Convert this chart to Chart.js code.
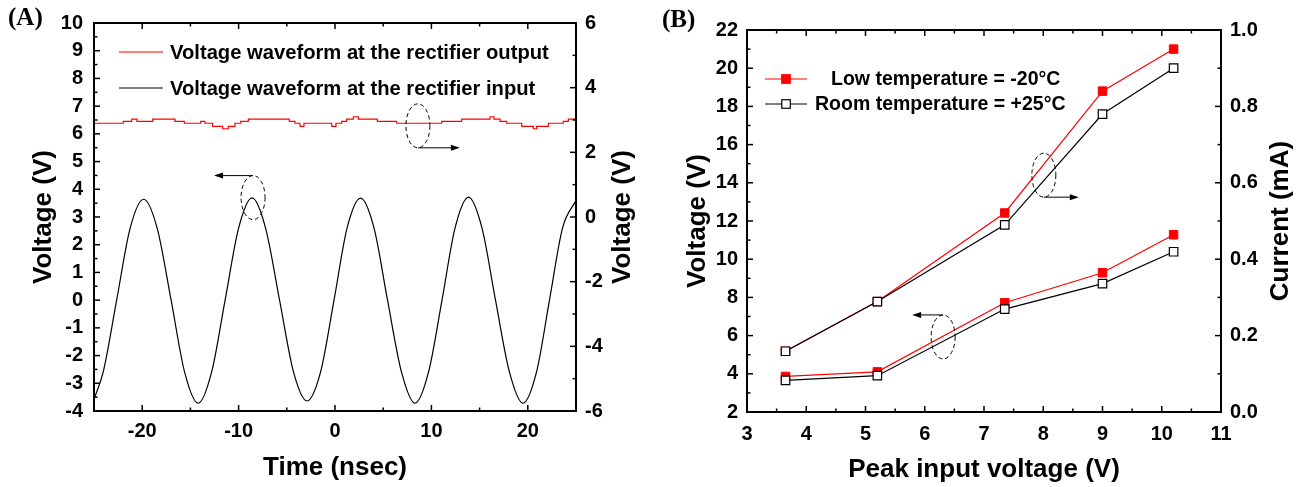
<!DOCTYPE html>
<html>
<head>
<meta charset="utf-8">
<script src="https://cdn.jsdelivr.net/npm/chart.js@4.4.1/dist/chart.umd.min.js"></script>
<style>
  body { margin: 0; background: #fff; width: 1302px; height: 487px; position: relative; overflow: hidden; }
  canvas { position: absolute; top: 0; }
  #chartA { left: 0; }
  #chartB { left: 651px; }
  .panel { position: absolute; font: bold 25px 'Liberation Serif', 'Times New Roman', serif; color: #000; }
</style>
</head>
<body>
<canvas id="chartA" width="651" height="487"></canvas>
<canvas id="chartB" width="651" height="487"></canvas>
<div class="panel" style="left:8px;top:3px">(A)</div>
<div class="panel" style="left:662px;top:5px">(B)</div>
<script>
// (A) rectifier input: sine read at peaks, troughs, zero crossings and 1/8 points
const inputTime = [-25.0, -24.05, -22.65, -21.25, -19.85, -18.45, -17.0, -15.6, -14.2, -12.8, -11.4, -10.0, -8.6, -7.2, -5.75, -4.3, -2.9, -1.5, -0.1, 1.25, 2.65, 4.05, 5.45, 6.9, 8.3, 9.7, 11.1, 12.45, 13.85, 15.25, 16.65, 18.1, 19.5, 20.9, 22.25, 23.6, 25.0]
const inputVoltage = [-3.57, -2.6, 0.0, 2.6, 3.64, 2.6, 0.0, -2.6, -3.72, -2.6, 0.0, 2.6, 3.69, 2.6, 0.0, -2.6, -3.64, -2.6, 0.0, 2.6, 3.68, 2.6, 0.0, -2.6, -3.72, -2.6, 0.0, 2.6, 3.72, 2.6, 0.0, -2.6, -3.72, -2.6, 0.0, 2.6, 3.6]

// (A) rectifier output (right axis), stepped: each point is the start of a level
const outputTime = [-25.0, -21.96, -21.09, -20.54, -18.91, -16.6, -15.63, -13.93, -13.49, -12.69, -11.65, -11.07, -10.37, -9.78, -8.99, -4.74, -4.15, -3.63, -3.22, -0.34, 0.10, 0.69, 1.21, 1.90, 2.42, 4.39, 6.40, 11.07, 13.14, 16.08, 16.49, 17.12, 17.81, 19.37, 20.57, 20.92, 22.13, 23.68, 24.2, 25.0]
const outputVoltage = [2.90, 2.96, 3.03, 2.96, 3.03, 2.96, 2.90, 2.96, 2.90, 2.80, 2.73, 2.80, 2.90, 2.96, 3.03, 2.96, 2.90, 2.80, 2.90, 2.80, 2.90, 2.96, 3.03, 3.10, 3.03, 2.96, 2.90, 2.96, 3.03, 3.10, 3.03, 2.96, 2.90, 2.80, 2.73, 2.80, 2.90, 2.96, 3.03, 3.03]
const timeTicks = [-20, -10, 0, 10, 20]

// (B)
const peakInput = [3.65, 5.2, 7.35, 9.0, 10.2]
const lowTempVoltage = [3.86, 4.1, 7.72, 9.29, 11.28]
const roomTempVoltage = [3.66, 3.9, 7.39, 8.72, 10.39]
const lowTempCurrent = [0.159, 0.289, 0.521, 0.84, 0.95]
const roomTempCurrent = [0.159, 0.289, 0.49, 0.78, 0.90]

const legendA = ['Voltage waveform at the rectifier output', 'Voltage waveform at the rectifier input']
const legendB = ['Low temperature = -20°C', 'Room temperature = +25°C']
const rightTitleA = 'Voltage (V)'
const rightTitleB = 'Current (mA)'

Chart.defaults.font.family = "'Liberation Sans', Arial, sans-serif"
Chart.defaults.font.weight = 'bold'
Chart.defaults.color = '#000'

const tickFont = { size: 20, weight: 'bold' }
const titleFont = { size: 26, weight: 'bold' }
const noGrid = { display: false, drawTicks: false }

function xy(xs, ys) {
  return xs.map((x, i) => ({ x: x, y: ys[i] }))
}

// inward major/minor ticks on all sides, plus the closed frame
function originAxes(spec) {
  return {
    id: 'originAxes',
    afterDraw(chart) {
      const ctx = chart.ctx, a = chart.chartArea
      ctx.save()
      ctx.strokeStyle = '#000'
      ctx.lineWidth = 1.5
      for (const id in spec) {
        const s = chart.scales[id]
        const major = spec[id][0], minor = spec[id][1]
        const n = Math.round((s.max - s.min) / minor)
        for (let i = 0; i <= n; i++) {
          const v = s.min + i * minor
          const isMajor = Math.abs(v / major - Math.round(v / major)) < 1e-6
          const len = isMajor ? 6 : 3.5
          const p = s.getPixelForValue(v)
          ctx.beginPath()
          if (s.isHorizontal()) {
            ctx.moveTo(p, a.bottom); ctx.lineTo(p, a.bottom - len)
            ctx.moveTo(p, a.top); ctx.lineTo(p, a.top + len)
          } else if (s.position === 'left') {
            ctx.moveTo(a.left, p); ctx.lineTo(a.left + len, p)
          } else {
            ctx.moveTo(a.right, p); ctx.lineTo(a.right - len, p)
          }
          ctx.stroke()
        }
      }
      ctx.lineWidth = 2
      ctx.strokeRect(a.left, a.top, a.right - a.left, a.bottom - a.top)
      ctx.restore()
    }
  }
}

function arrow(ctx, x0, y, x1) {
  const dir = x1 > x0 ? 1 : -1
  ctx.setLineDash([])
  ctx.beginPath()
  ctx.moveTo(x0, y)
  ctx.lineTo(x1 - dir * 7, y)
  ctx.stroke()
  ctx.beginPath()
  ctx.moveTo(x1, y)
  ctx.lineTo(x1 - dir * 9, y - 3)
  ctx.lineTo(x1 - dir * 9, y + 3)
  ctx.closePath()
  ctx.fill()
}

function marker(ctx, cx, y, filled) {
  ctx.fillStyle = filled ? '#ff0000' : '#fff'
  ctx.strokeStyle = filled ? '#ff0000' : '#000'
  ctx.fillRect(cx - 4.25, y - 4.25, 8.5, 8.5)
  ctx.lineWidth = 1.2
  ctx.strokeRect(cx - 4.25, y - 4.25, 8.5, 8.5)
}

// ellipses: [scaleX, scaleY, x, y, rx, ry, arrowSide('top'|'bottom'), arrowLen(+right/-left)]
function decor(legend, legendSize, ellipses, rightTitle, rightTitleX) {
  return {
    id: 'decor',
    afterDraw(chart) {
      const ctx = chart.ctx, a = chart.chartArea
      ctx.save()
      ctx.font = 'bold ' + legendSize + "px 'Liberation Sans', Arial, sans-serif"
      ctx.textBaseline = 'middle'
      ctx.textAlign = 'left'
      legend.forEach(item => {
        ctx.strokeStyle = item.color
        ctx.lineWidth = 1.2
        ctx.beginPath()
        ctx.moveTo(item.x0, item.y)
        ctx.lineTo(item.x1, item.y)
        ctx.stroke()
        if (item.marker !== undefined) marker(ctx, (item.x0 + item.x1) / 2, item.y, item.marker)
        ctx.fillStyle = '#000'
        ctx.fillText(item.text, item.tx, item.y + 1)
      })
      ctx.strokeStyle = '#000'
      ctx.fillStyle = '#000'
      ctx.lineWidth = 1
      ellipses.forEach(e => {
        const cx = chart.scales[e[0]].getPixelForValue(e[2])
        const cy = chart.scales[e[1]].getPixelForValue(e[3])
        ctx.setLineDash([4, 3])
        ctx.beginPath()
        ctx.ellipse(cx, cy, e[4], e[5], 0, 0, Math.PI * 2)
        ctx.stroke()
        const ay = e[6] === 'top' ? cy - e[5] : cy + e[5]
        arrow(ctx, cx, ay, cx + e[7])
      })
      // right-hand axis title, read bottom to top like the left one
      ctx.translate(rightTitleX, (a.top + a.bottom) / 2)
      ctx.rotate(-Math.PI / 2)
      ctx.font = "bold 26px 'Liberation Sans', Arial, sans-serif"
      ctx.textAlign = 'center'
      ctx.fillText(rightTitle, 0, 0)
      ctx.restore()
    }
  }
}

new Chart(document.getElementById('chartA'), {
  type: 'line',
  data: {
    datasets: [
      {
        data: xy(outputTime, outputVoltage),
        borderColor: '#ff0000',
        borderWidth: 1.2,
        pointRadius: 0,
        stepped: true,
        yAxisID: 'y1'
      },
      {
        data: xy(inputTime, inputVoltage),
        borderColor: '#000',
        borderWidth: 1.2,
        pointRadius: 0,
        cubicInterpolationMode: 'monotone',
        yAxisID: 'y'
      }
    ]
  },
  options: {
    responsive: false,
    animation: false,
    layout: { padding: { top: 22, left: 0, right: 0, bottom: 0 } },
    plugins: { legend: { display: false }, tooltip: { enabled: false } },
    scales: {
      x: {
        type: 'linear', min: -25, max: 25,
        grid: noGrid, border: { display: false },
        ticks: { padding: 8, font: tickFont, maxRotation: 0, autoSkip: false },
        afterBuildTicks(s) { s.ticks = timeTicks.map(v => ({ value: v })) },
        title: { display: true, text: 'Time (nsec)', font: titleFont, padding: { top: 0, bottom: 4 } },
        afterFit(s) { s.height = 76 }
      },
      y: {
        type: 'linear', position: 'left', min: -4, max: 10,
        grid: noGrid, border: { display: false },
        ticks: { stepSize: 1, padding: 11, font: tickFont, autoSkip: false },
        title: { display: true, text: 'Voltage (V)', font: titleFont, padding: { top: 28, bottom: 0 } },
        afterFit(s) { s.width = 94 }
      },
      y1: {
        type: 'linear', position: 'right', min: -6, max: 6, display: true,
        grid: noGrid, border: { display: false },
        ticks: { stepSize: 2, padding: 9, font: tickFont, autoSkip: false },
        afterFit(s) { s.width = 75 }
      }
    }
  },
  plugins: [
    originAxes({ x: [10, 5], y: [1, 0.5], y1: [2, 1] }),
    decor([
      { x0: 119, x1: 163, y: 52, color: '#ff0000', tx: 170, text: legendA[0] },
      { x0: 119, x1: 163, y: 88, color: '#000', tx: 170, text: legendA[1] }
    ], 20.2, [
      ['x', 'y', -8.5, 3.7, 12, 22, 'top', -39],
      ['x', 'y1', 8.6, 2.82, 12, 22, 'bottom', 42]
    ], rightTitleA, 623)
  ]
})

new Chart(document.getElementById('chartB'), {
  type: 'line',
  data: {
    datasets: [
      {
        data: xy(peakInput, roomTempVoltage),
        borderColor: '#000', borderWidth: 1.2,
        pointStyle: 'rect', pointRadius: 6,
        pointBackgroundColor: '#fff', pointBorderColor: '#000', pointBorderWidth: 1.2,
        yAxisID: 'y', order: 0
      },
      {
        data: xy(peakInput, roomTempCurrent),
        borderColor: '#000', borderWidth: 1.2,
        pointStyle: 'rect', pointRadius: 6,
        pointBackgroundColor: '#fff', pointBorderColor: '#000', pointBorderWidth: 1.2,
        yAxisID: 'y1', order: 0
      },
      {
        data: xy(peakInput, lowTempVoltage),
        borderColor: '#ff0000', borderWidth: 1.2,
        pointStyle: 'rect', pointRadius: 6,
        pointBackgroundColor: '#ff0000', pointBorderColor: '#ff0000', pointBorderWidth: 1,
        yAxisID: 'y', order: 1
      },
      {
        data: xy(peakInput, lowTempCurrent),
        borderColor: '#ff0000', borderWidth: 1.2,
        pointStyle: 'rect', pointRadius: 6,
        pointBackgroundColor: '#ff0000', pointBorderColor: '#ff0000', pointBorderWidth: 1,
        yAxisID: 'y1', order: 1
      }
    ]
  },
  options: {
    responsive: false,
    animation: false,
    layout: { padding: { top: 30, left: 0, right: 0, bottom: 0 } },
    plugins: { legend: { display: false }, tooltip: { enabled: false } },
    scales: {
      x: {
        type: 'linear', min: 3, max: 11,
        grid: noGrid, border: { display: false },
        ticks: { stepSize: 1, padding: 10, font: tickFont, maxRotation: 0, autoSkip: false },
        title: { display: true, text: 'Peak input voltage (V)', font: titleFont, padding: { top: 0, bottom: 2 } },
        afterFit(s) { s.height = 75 }
      },
      y: {
        type: 'linear', position: 'left', min: 2, max: 22,
        grid: noGrid, border: { display: false },
        ticks: { stepSize: 2, padding: 9, font: tickFont, autoSkip: false },
        title: { display: true, text: 'Voltage (V)', font: titleFont, padding: { top: 31, bottom: 0 } },
        afterFit(s) { s.width = 96 }
      },
      y1: {
        type: 'linear', position: 'right', min: 0, max: 1,
        grid: noGrid, border: { display: false },
        ticks: { stepSize: 0.2, padding: 9, font: tickFont, autoSkip: false, callback: v => v.toFixed(1) },
        afterFit(s) { s.width = 81 }
      }
    }
  },
  plugins: [
    originAxes({ x: [1, 0.5], y: [2, 1], y1: [0.2, 0.1] }),
    decor([
      { x0: 114, x1: 156, y: 79, color: '#ff0000', marker: true, tx: 180, text: legendB[0] },
      { x0: 114, x1: 156, y: 104, color: '#000', marker: false, tx: 164, text: legendB[1] }
    ], 19.5, [
      ['x', 'y1', 8.01, 0.62, 12, 22, 'bottom', 35],
      ['x', 'y', 6.31, 5.93, 12, 22, 'top', -31]
    ], rightTitleB, 630)
  ]
})
</script>
</body>
</html>
